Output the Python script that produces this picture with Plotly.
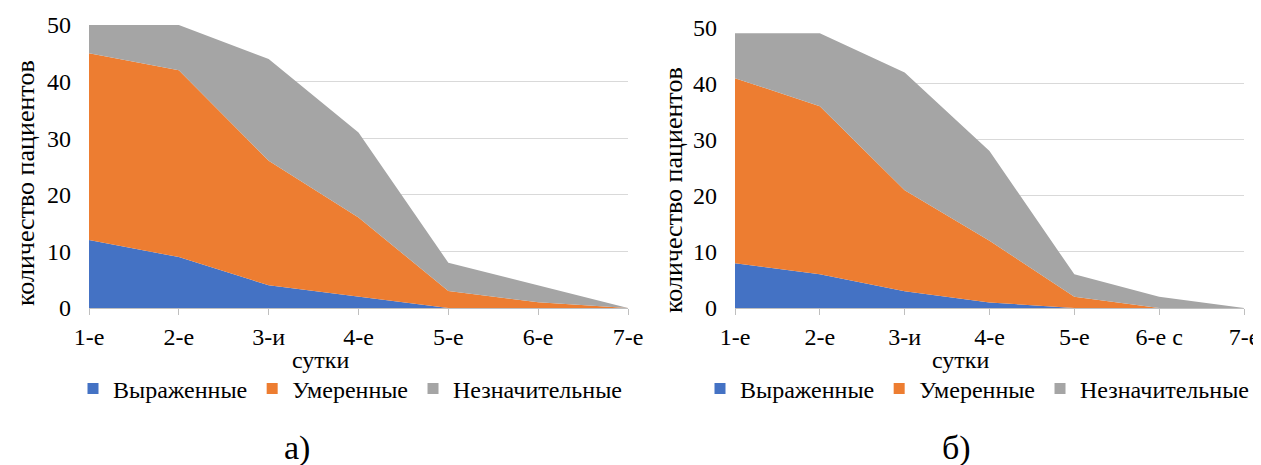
import plotly.graph_objects as go

# ---- data ----
days_a = ["1-е", "2-е", "3-и", "4-е", "5-е", "6-е", "7-е"]
days_b = ["1-е", "2-е", "3-и", "4-е", "5-е", "6-е с", "7-е"]
series_names = ["Выраженные", "Умеренные", "Незначительные"]
colors = ["#4472C4", "#ED7D31", "#A5A5A5"]

severe_a = [12, 9, 4, 2, 0, 0, 0]
moderate_a = [33, 33, 22, 14, 3, 1, 0]
minor_a = [5, 8, 18, 15, 5, 3, 0]

severe_b = [8, 6, 3, 1, 0, 0, 0]
moderate_b = [33, 30, 18, 11, 2, 0, 0]
minor_b = [8, 13, 21, 16, 4, 2, 0]

y_ticks = [0, 10, 20, 30, 40, 50]

FONT = "Times New Roman, Times, Liberation Serif, serif"
FS = 24
OFF = 8            # page body margin in the browser
W, H = 1261 - OFF, 465 - OFF

fig = go.Figure()

panels = [
    (days_a, [severe_a, moderate_a, minor_a], "x", "y", "legend", "a"),
    (days_b, [severe_b, moderate_b, minor_b], "x2", "y2", "legend2", "b"),
]
for days, vals, xa, ya, leg, grp in panels:
    for name, v, c in zip(series_names, vals, colors):
        fig.add_trace(go.Scatter(
            x=days, y=v, mode="lines", stackgroup=grp,
            line=dict(width=0, color=c), fillcolor=c,
            showlegend=False, xaxis=xa, yaxis=ya, hoverinfo="skip"))
    for name, c in zip(series_names, colors):
        fig.add_trace(go.Scatter(
            x=[None], y=[None], mode="markers", name=name,
            marker=dict(symbol="square", size=11, color=c),
            xaxis=xa, yaxis=ya, legend=leg, showlegend=True))

def px_x(p):
    return (p - OFF) / W

def px_y(p):
    return 1 - (p - OFF) / H

xcommon = dict(type="category", range=[0, 6], showgrid=False, showline=True,
               linecolor="#BFBFBF", linewidth=1, ticks="outside", ticklen=6,
               tickcolor="#BFBFBF", tickfont=dict(family=FONT, size=FS, color="black"),
               ticklabelstandoff=1, zeroline=False, fixedrange=True, automargin=False)
ycommon = dict(range=[0, 50], tickvals=y_ticks, showgrid=True, gridcolor="#D9D9D9",
               gridwidth=1, showline=False, zeroline=False, ticks="",
               tickfont=dict(family=FONT, size=FS, color="black"),
               ticklabelstandoff=17, fixedrange=True, automargin=False)

legfont = dict(family=FONT, size=FS, color="black")
fig.update_layout(
    template="none",
    width=W, height=H,
    margin=dict(l=0, r=0, t=0, b=0, autoexpand=False),
    paper_bgcolor="white", plot_bgcolor="white",
    font=dict(family=FONT, color="black"),
    xaxis=dict(domain=[px_x(89), px_x(628)], anchor="y", **xcommon),
    yaxis=dict(domain=[px_y(308), px_y(25)], anchor="x", **ycommon),
    xaxis2=dict(domain=[px_x(735), px_x(1244)], anchor="y2", **xcommon),
    yaxis2=dict(domain=[px_y(308), px_y(27.7)], anchor="x2", **ycommon),
    legend=dict(orientation="h", x=px_x(73), y=px_y(389), xanchor="left", yanchor="middle",
                traceorder="normal", font=legfont, bgcolor="rgba(0,0,0,0)"),
    legend2=dict(orientation="h", x=px_x(700), y=px_y(389), xanchor="left", yanchor="middle",
                 traceorder="normal", font=legfont, bgcolor="rgba(0,0,0,0)"),
    showlegend=True,
)

def ann(text, x, y, size=FS, angle=0):
    fig.add_annotation(text=text, x=px_x(x), y=px_y(y), xanchor="center", yanchor="middle",
                       showarrow=False, xref="paper", yref="paper", textangle=angle,
                       font=dict(family=FONT, size=size, color="black"))

ann("сутки", 320, 360)
ann("сутки", 960, 360)
ann("количество пациентов", 25, 183, size=26, angle=-90)
ann("количество пациентов", 673, 190, size=26, angle=-90)
ann("а)", 297, 448, size=34)
ann("б)", 957, 448, size=34)

fig.write_html("out.html")
